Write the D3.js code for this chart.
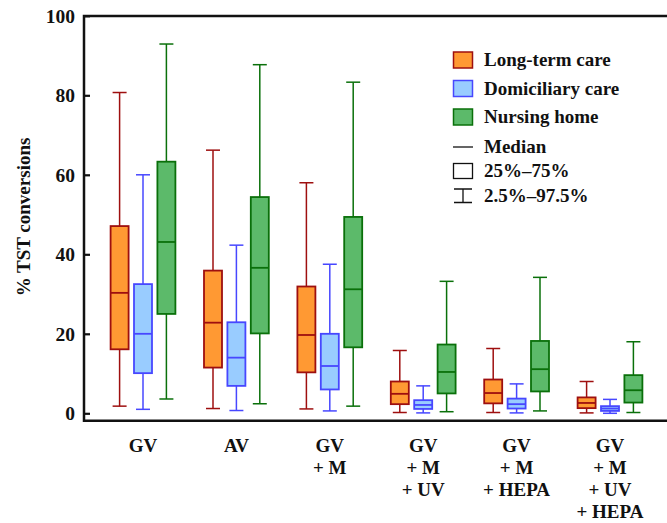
<!DOCTYPE html>
<html lang="en">
<head>
  <meta charset="UTF-8">
  <title>TST conversions</title>
  <script src="https://d3js.org/d3.v7.min.js"></script>
  <style>
    body { margin: 0; background: #fff; }
    svg text { font-family: "Liberation Serif", "Times New Roman", Times, "DejaVu Serif", serif; font-weight: bold; fill: #111; }
  </style>
</head>
<body>
<div id="chart"></div>
<script>
// groups shown on the x axis, each label split into lines
var groups = ["GV", "AV", "GV+M", "GV+M+UV", "GV+M+HEPA", "GV+M+UV+HEPA"];
var groupLines = [["GV"], ["AV"], ["GV", "+ M"], ["GV", "+ M", "+ UV"], ["GV", "+ M", "+ HEPA"], ["GV", "+ M", "+ UV", "+ HEPA"]];

var seriesNames = ["Long-term care", "Domiciliary care", "Nursing home"];

// [2.5%, 25%, median, 75%, 97.5%] per group
var longTerm = [
  [1.8, 16.1, 30.3, 47.1, 80.7],
  [1.2, 11.5, 22.8, 35.9, 66.2],
  [1.1, 10.3, 19.7, 31.9, 58.0],
  [0.2, 2.3, 4.9, 8.0, 15.8],
  [0.2, 2.5, 5.1, 8.5, 16.3],
  [0.1, 1.3, 2.6, 4.0, 8.0]
];
var domiciliary = [
  [1.0, 10.1, 20.0, 32.5, 60.0],
  [0.7, 6.9, 14.0, 22.9, 42.3],
  [0.6, 6.0, 11.9, 20.0, 37.5],
  [0.1, 1.1, 2.1, 3.3, 6.9],
  [0.1, 1.2, 2.3, 3.7, 7.4],
  [0.0, 0.6, 1.2, 1.8, 3.5]
];
var nursing = [
  [3.6, 25.0, 43.1, 63.3, 92.9],
  [2.4, 20.1, 36.6, 54.4, 87.7],
  [1.8, 16.6, 31.2, 49.4, 83.3],
  [0.4, 5.0, 10.4, 17.3, 33.2],
  [0.6, 5.5, 11.1, 18.2, 34.2],
  [0.2, 2.7, 5.8, 9.6, 18.0]
];
var yTicks = [0, 20, 40, 60, 80, 100];

var fills = ["#FF9933", "#99CCFF", "#5CBA6A"];
var strokes = ["#9E0F0F", "#4747FF", "#0A700A"];

var width = 667, height = 523;
var plotLeft = 84, plotTop = 16, plotBottom = 420.7;

var svg = d3.select("#chart").append("svg")
  .attr("width", width)
  .attr("height", height);

var y = d3.scaleLinear().domain([0, 100]).range([413.3, 15.8]);

var x = d3.scaleBand().domain(groups).range([96.3, 96.3 + 6 * 93.4]);
var xs = d3.scalePoint().domain(seriesNames).range([-23.4, 23.4]);
var boxW = 18, capW = 14;

/* ===== boxes ===== */
var allData = [longTerm, domiciliary, nursing];
allData.forEach(function(series, si) {
  var g = svg.append("g");
  var cx = function(d, i) { return x(groups[i]) + x.bandwidth() / 2 + xs(seriesNames[si]); };

  var item = g.selectAll(".box").data(series).enter().append("g").attr("class", "box");

  // whisker line
  item.append("line")
    .attr("x1", cx).attr("x2", cx)
    .attr("y1", function(d) { return y(d[0]); })
    .attr("y2", function(d) { return y(d[4]); })
    .attr("stroke", strokes[si]).attr("stroke-width", 1.5);
  // caps
  [0, 4].forEach(function(k) {
    item.append("line")
      .attr("x1", function(d, i) { return cx(d, i) - capW / 2; })
      .attr("x2", function(d, i) { return cx(d, i) + capW / 2; })
      .attr("y1", function(d) { return y(d[k]); })
      .attr("y2", function(d) { return y(d[k]); })
      .attr("stroke", strokes[si]).attr("stroke-width", 1.5);
  });
  // box
  item.append("rect")
    .attr("x", function(d, i) { return cx(d, i) - boxW / 2; })
    .attr("width", boxW)
    .attr("y", function(d) { return y(d[3]); })
    .attr("height", function(d) { return y(d[1]) - y(d[3]); })
    .attr("fill", fills[si])
    .attr("stroke", strokes[si]).attr("stroke-width", 1.8);
  // median
  item.append("line")
    .attr("x1", function(d, i) { return cx(d, i) - boxW / 2; })
    .attr("x2", function(d, i) { return cx(d, i) + boxW / 2; })
    .attr("y1", function(d) { return y(d[2]); })
    .attr("y2", function(d) { return y(d[2]); })
    .attr("stroke", strokes[si]).attr("stroke-width", 1.8);
});

/* ===== axes ===== */
var yAxis = d3.axisLeft(y).tickValues(yTicks).tickSize(-6).tickPadding(9);
var ya = svg.append("g").attr("transform", "translate(" + plotLeft + ",0)").call(yAxis);
ya.attr("font-family", null).attr("font-size", null);
ya.select(".domain").remove();
ya.selectAll(".tick line").attr("stroke", "#111").attr("stroke-width", 2.2);
ya.selectAll(".tick text").attr("font-size", 19.5).attr("fill", "#111");

svg.append("path")
  .attr("d", "M" + width + "," + plotTop + "H" + plotLeft + "V" + plotBottom + "H" + width)
  .attr("fill", "none").attr("stroke", "#111").attr("stroke-width", 2.5);

svg.append("text")
  .attr("transform", "translate(30,217) rotate(-90)")
  .attr("text-anchor", "middle")
  .attr("font-size", 19)
  .text("% TST conversions");

// x labels
var xl = svg.selectAll(".xlab").data(groups).enter().append("text")
  .attr("class", "xlab")
  .attr("text-anchor", "middle")
  .attr("font-size", 19);
xl.each(function(gname, i) {
  var t = d3.select(this);
  groupLines[i].forEach(function(line, j) {
    t.append("tspan")
      .attr("x", x(gname) + x.bandwidth() / 2)
      .attr("y", 452 + j * 22)
      .text(line);
  });
});

/* ===== legend ===== */
var lg = svg.append("g").attr("transform", "translate(453,0)");
seriesNames.forEach(function(name, i) {
  var cy = 60 + i * 28.5;
  lg.append("rect").attr("x", 0.5).attr("y", cy - 8).attr("width", 19).attr("height", 16)
    .attr("fill", fills[i]).attr("stroke", strokes[i]).attr("stroke-width", 1.5);
  lg.append("text").attr("x", 31).attr("y", cy + 6).attr("font-size", 19).text(name);
});
lg.append("line").attr("x1", 0).attr("x2", 20).attr("y1", 147).attr("y2", 147)
  .attr("stroke", "#111").attr("stroke-width", 1.3);
lg.append("text").attr("x", 31).attr("y", 153).attr("font-size", 19).text("Median");
lg.append("rect").attr("x", 0.5).attr("y", 163.5).attr("width", 19).attr("height", 15)
  .attr("fill", "none").attr("stroke", "#111").attr("stroke-width", 1.3);
lg.append("text").attr("x", 31).attr("y", 177).attr("font-size", 19).text("25%\u201375%");
lg.append("path").attr("d", "M1,189H19M10,189V202.5M1,202.5H19")
  .attr("fill", "none").attr("stroke", "#111").attr("stroke-width", 1.3);
lg.append("text").attr("x", 31).attr("y", 202).attr("font-size", 19).text("2.5%\u201397.5%");
</script>
</body>
</html>
